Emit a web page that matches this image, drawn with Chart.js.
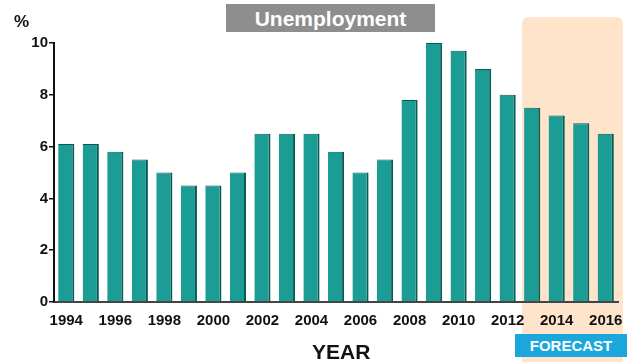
<!DOCTYPE html>
<html>
<head>
<meta charset="utf-8">
<script src="https://cdn.jsdelivr.net/npm/chart.js@4.4.0/dist/chart.umd.min.js"></script>
<style>
  body { margin: 0; background: #fff; font-family: "Liberation Sans", Arial, sans-serif; }
  #wrap { position: relative; width: 630px; height: 362px; overflow: hidden; }
  .lbl { position: absolute; font-weight: bold; }
  #title { left: 226px; top: 4px; width: 209px; height: 28px; background: #8e8e8e; color: #fff;
           font-size: 21px; line-height: 30px; text-align: center; }
  #pct { left: 14px; top: 12px; font-size: 17px; color: #111; }
  #year { left: 312px; top: 340px; font-size: 21px; color: #111; }
  #fc { left: 515px; top: 334px; width: 112px; height: 23px; background: #1ba7dc; color: #fff;
        font-size: 15px; line-height: 24px; text-align: center; }
</style>
</head>
<body>
<div id="wrap">
  <canvas id="chart" width="630" height="362"></canvas>
  <div class="lbl" id="title">Unemployment</div>
  <div class="lbl" id="pct">%</div>
  <div class="lbl" id="year">YEAR</div>
  <div class="lbl" id="fc">FORECAST</div>
</div>
<script>
var years = ['1994', '1995', '1996', '1997', '1998', '1999', '2000', '2001', '2002', '2003', '2004', '2005',
             '2006', '2007', '2008', '2009', '2010', '2011', '2012', '2013', '2014', '2015', '2016'];
var rate = [6.1, 6.1, 5.8, 5.5, 5.0, 4.5, 4.5, 5.0, 6.5, 6.5, 6.5, 5.8,
            5.0, 5.5, 7.8, 10.0, 9.7, 9.0, 8.0, 7.5, 7.2, 6.9, 6.5];
var forecastFrom = '2013';

// peach box behind the forecast years (drawn before the axes so labels stay on top)
var forecastBox = {
    id: 'forecastBox',
    beforeDraw: function(chart) {
        var x = chart.scales.x;
        var ctx = chart.ctx;
        var idx = years.indexOf(forecastFrom);
        var half = (x.getPixelForValue(1) - x.getPixelForValue(0)) / 2;
        var left = x.getPixelForValue(idx) - half + 2;
        var right = chart.chartArea.right + 5;
        ctx.save();
        ctx.fillStyle = '#fde4cb';
        ctx.beginPath();
        ctx.roundRect(left, 17, right - left, chart.height, [7, 7, 0, 0]);
        ctx.fill();
        ctx.restore();
    }
};

new Chart(document.getElementById('chart').getContext('2d'), {
    type: 'bar',
    data: {
        labels: years,
        datasets: [{
            data: rate,
            backgroundColor: '#1b9c94',
            borderColor: '#0c5a55',
            borderWidth: { top: 1, right: 2, left: 0, bottom: 0 },
            borderSkipped: 'bottom',
            barPercentage: 0.66,
            categoryPercentage: 1.0
        }]
    },
    options: {
        responsive: false,
        animation: false,
        events: [],
        layout: { padding: { top: 43, right: 12, left: 0, bottom: 0 } },
        plugins: { legend: { display: false }, tooltip: { enabled: false } },
        scales: {
            x: {
                afterFit: function(s) { s.height = 60; },
                grid: { display: false },
                border: { color: '#444', width: 2 },
                ticks: {
                    autoSkip: false,
                    maxRotation: 0,
                    padding: 2,
                    color: '#111',
                    font: { family: 'Liberation Sans', size: 15, weight: 'bold' },
                    callback: function(v, i) { return i % 2 == 0 ? years[i] : ''; }
                }
            },
            y: {
                min: 0,
                max: 10,
                afterFit: function(s) { s.width = 54; },
                grid: { drawOnChartArea: false, tickLength: 5, color: '#111', lineWidth: 1.5 },
                border: { color: '#111', width: 2 },
                ticks: {
                    stepSize: 2,
                    padding: 1,
                    color: '#111',
                    font: { family: 'Liberation Sans', size: 15, weight: 'bold' }
                }
            }
        }
    },
    plugins: [forecastBox]
});
</script>
</body>
</html>
